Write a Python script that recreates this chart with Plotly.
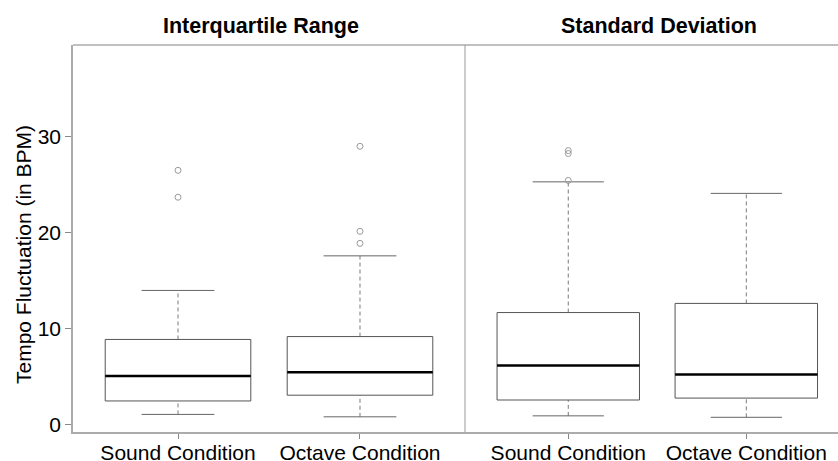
import plotly.graph_objects as go

# ---- data ----
categories = ["Sound Condition", "Octave Condition"]
panel_titles = ["Interquartile Range", "Standard Deviation"]
y_tick_vals = [0, 10, 20, 30]

# Interquartile Range panel
iqr_lower = [1.1, 0.85]
iqr_q1 = [2.5, 3.1]
iqr_median = [5.1, 5.5]
iqr_q3 = [8.9, 9.2]
iqr_upper = [14.0, 17.6]
iqr_outliers = [[23.7, 26.5], [18.9, 20.15, 29.0]]

# Standard Deviation panel
sd_lower = [0.95, 0.8]
sd_q1 = [2.6, 2.8]
sd_median = [6.2, 5.25]
sd_q3 = [11.7, 12.65]
sd_upper = [25.3, 24.1]
sd_outliers = [[25.45, 28.25, 28.55], []]

FONT = "Liberation Sans, Arial, Helvetica, sans-serif"
W, H = 838, 461
ML, MR, MT, MB = 73, 0, 45, 29
PW = W - ML - MR
PH = H - MT - MB
split = 392 / PW

BOX_HALF = 0.4
CAP_HALF = 0.2

fig = go.Figure()


def add_panel(xaxis, lower, q1, med, q3, upper, outliers):
    for i in range(len(categories)):
        c = i + 1
        # whiskers (dashed)
        fig.add_trace(go.Scatter(
            x=[c, c, None, c, c], y=[lower[i], q1[i], None, q3[i], upper[i]],
            mode="lines", line=dict(color="#7a7a7a", width=1, dash="4px,3px"),
            xaxis=xaxis, yaxis="y", hoverinfo="skip", showlegend=False))
        # caps
        fig.add_trace(go.Scatter(
            x=[c - CAP_HALF, c + CAP_HALF, None, c - CAP_HALF, c + CAP_HALF],
            y=[lower[i], lower[i], None, upper[i], upper[i]],
            mode="lines", line=dict(color="#666666", width=1),
            xaxis=xaxis, yaxis="y", hoverinfo="skip", showlegend=False))
        # box
        fig.add_trace(go.Scatter(
            x=[c - BOX_HALF, c + BOX_HALF, c + BOX_HALF, c - BOX_HALF, c - BOX_HALF],
            y=[q1[i], q1[i], q3[i], q3[i], q1[i]],
            mode="lines", line=dict(color="#555555", width=1),
            fill="toself", fillcolor="rgba(255,255,255,1)",
            xaxis=xaxis, yaxis="y", hoverinfo="skip", showlegend=False))
        # median
        fig.add_trace(go.Scatter(
            x=[c - BOX_HALF, c + BOX_HALF], y=[med[i], med[i]],
            mode="lines", line=dict(color="#000000", width=2.5),
            xaxis=xaxis, yaxis="y", hoverinfo="skip", showlegend=False))
        # outliers
        if outliers[i]:
            fig.add_trace(go.Scatter(
                x=[c] * len(outliers[i]), y=outliers[i], mode="markers",
                marker=dict(symbol="circle-open", size=6, color="#9a9a9a",
                            line=dict(width=1)),
                xaxis=xaxis, yaxis="y", hoverinfo="skip", showlegend=False))


add_panel("x", iqr_lower, iqr_q1, iqr_median, iqr_q3, iqr_upper, iqr_outliers)
add_panel("x2", sd_lower, sd_q1, sd_median, sd_q3, sd_upper, sd_outliers)

axis_common = dict(
    tickmode="array", tickvals=[1, 2], ticktext=categories,
    showgrid=False, zeroline=False, showline=True, linecolor="#ababab",
    linewidth=1.5, ticks="outside", ticklen=5, tickcolor="#888888",
    ticklabelstandoff=-4,
    tickfont=dict(family=FONT, size=21, color="#000000"),
)

fig.update_layout(
    width=W, height=H,
    margin=dict(l=ML, r=MR, t=MT, b=MB, autoexpand=False),
    paper_bgcolor="white", plot_bgcolor="white",
    font=dict(family=FONT, color="#000000"),
    xaxis=dict(domain=[0, split], range=[0.423, 2.577], anchor="y", **axis_common),
    xaxis2=dict(domain=[split, 1], range=[0.42, 2.515], anchor="y", **axis_common),
    yaxis=dict(
        range=[-0.73, 39.54], tickmode="array", tickvals=y_tick_vals,
        showgrid=False, zeroline=False, showline=True, linecolor="#ababab",
        linewidth=1.5, ticks="outside", ticklen=6, tickcolor="#888888",
        tickfont=dict(family=FONT, size=21, color="#000000"), anchor="x",
    ),
    shapes=[
        dict(type="line", xref="paper", yref="paper", x0=0, x1=1, y0=1, y1=1,
             line=dict(color="#ababab", width=1.5)),
        dict(type="line", xref="paper", yref="paper", x0=split, x1=split, y0=0, y1=1,
             line=dict(color="#999999", width=1)),
    ],
    annotations=[
        dict(text=panel_titles[0], xref="paper", yref="paper",
             x=(261 - ML) / PW, y=(H - MB - 26) / PH, xanchor="center", yanchor="middle",
             showarrow=False, font=dict(family=FONT, size=21.5, color="#000000", weight="bold")),
        dict(text=panel_titles[1], xref="paper", yref="paper",
             x=(659 - ML) / PW, y=(H - MB - 26) / PH, xanchor="center", yanchor="middle",
             showarrow=False, font=dict(family=FONT, size=21.5, color="#000000", weight="bold")),
        dict(text="Tempo Fluctuation (in BPM)", xref="paper", yref="paper",
             x=(23 - ML) / PW, y=(H - MB - 255) / PH, xanchor="center", yanchor="middle",
             textangle=-90, showarrow=False,
             font=dict(family=FONT, size=21, color="#000000")),
    ],
)

fig.write_html("out.html", config={"displayModeBar": False},
               post_script="document.body.style.margin='0';document.body.style.overflow='hidden';")
